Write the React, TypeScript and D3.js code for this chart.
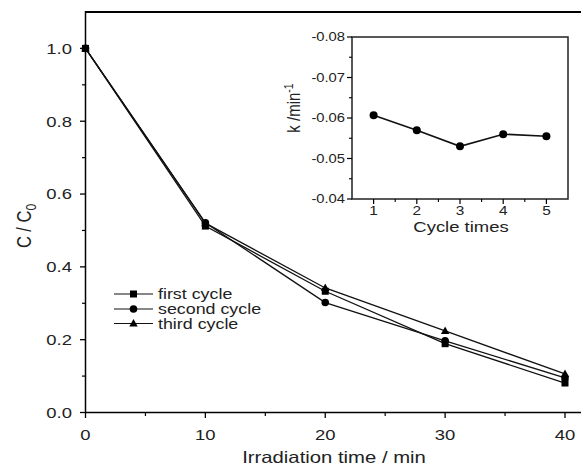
import React from "react";
import * as d3 from "d3";

const times = [0, 10, 20, 30, 40];
const firstCycle = [1.0, 0.512, 0.333, 0.189, 0.081];
const secondCycle = [1.0, 0.521, 0.302, 0.197, 0.095];
const thirdCycle = [1.0, 0.52, 0.342, 0.224, 0.106];
const seriesNames = ["first cycle", "second cycle", "third cycle"];
const yTicks = [0.0, 0.2, 0.4, 0.6, 0.8, 1.0];
const yMinor = [0.1, 0.3, 0.5, 0.7, 0.9];
const xTicks = [0, 10, 20, 30, 40];
const xMinor = [5, 15, 25, 35];

const cycles = [1, 2, 3, 4, 5];
const kValues = [-0.0607, -0.057, -0.053, -0.056, -0.0555];
const kTicks = [-0.08, -0.07, -0.06, -0.05, -0.04];
const kMinor = [-0.075, -0.065, -0.055, -0.045];
const cycleMinor = [1.5, 2.5, 3.5, 4.5];

const FONT = "'Liberation Sans', Arial, Helvetica, sans-serif";
const SX = 1.23;

function T({
  x,
  y,
  size,
  anchor = "start",
  rotate = 0,
  dy,
  children,
}: {
  x: number;
  y: number;
  size: number;
  anchor?: string;
  rotate?: number;
  dy?: string;
  children: React.ReactNode;
}) {
  return (
    <text
      transform={`translate(${x},${y}) scale(${SX},1)${rotate ? ` rotate(${rotate})` : ""}`}
      textAnchor={anchor}
      fontSize={size}
      dy={dy}
      fill="#222"
    >
      {children}
    </text>
  );
}

function Marker({ type, x, y }: { type: string; x: number; y: number }) {
  if (type === "square") return <rect x={x - 3.5} y={y - 3.5} width={7} height={7} fill="#000" />;
  if (type === "circle") return <circle cx={x} cy={y} r={3.8} fill="#000" />;
  return <path d={`M${x},${y - 4.5}L${x + 4.2},${y + 3}L${x - 4.2},${y + 3}Z`} fill="#000" />;
}

export default function App() {
  const x = d3.scaleLinear().domain([0, 40]).range([85.5, 565]);
  const y = d3.scaleLinear().domain([0, 1.1]).range([412.5, 12]);
  const line = d3
    .line<number>()
    .x((_, i) => x(times[i]))
    .y((d) => y(d));
  const data = [firstCycle, secondCycle, thirdCycle];
  const markers = ["square", "circle", "triangle"];

  const ix = d3.scaleLinear().domain([0.5, 5.5]).range([352, 568]);
  const iy = d3.scaleLinear().domain([-0.04, -0.08]).range([199, 37]);
  const kLine = d3
    .line<number>()
    .x((_, i) => ix(cycles[i]))
    .y((d) => iy(d));

  const legendX = 114;
  const legendY = [294, 309, 323.5];

  return (
    <svg
      width={581}
      height={466}
      style={{ position: "absolute", left: 0, top: 0, background: "#fff" }}
      fontFamily={FONT}
    >
      <rect width={581} height={466} fill="#fff" />
      {/* main frame */}
      <line x1={85.5} x2={581} y1={12} y2={12} stroke="#000" strokeWidth={1.8} />
      <line x1={85.5} x2={85.5} y1={11} y2={413} stroke="#000" strokeWidth={1.5} />
      <line x1={85} x2={581} y1={412.5} y2={412.5} stroke="#000" strokeWidth={1.5} />
      {yTicks.map((t) => (
        <g key={"yt" + t}>
          <line x1={80} x2={85.5} y1={y(t)} y2={y(t)} stroke="#000" strokeWidth={1.3} />
          <T x={72} y={y(t) + 5.4} size={15} anchor="end">
            {t.toFixed(1)}
          </T>
        </g>
      ))}
      {yMinor.map((t) => (
        <line key={"ym" + t} x1={82} x2={85.5} y1={y(t)} y2={y(t)} stroke="#000" strokeWidth={1.2} />
      ))}
      {xTicks.map((t) => (
        <g key={"xt" + t}>
          <line x1={x(t)} x2={x(t)} y1={412.5} y2={418} stroke="#000" strokeWidth={1.3} />
          <T x={x(t)} y={440} size={15} anchor="middle">
            {t}
          </T>
        </g>
      ))}
      {xMinor.map((t) => (
        <line key={"xm" + t} x1={x(t)} x2={x(t)} y1={412.5} y2={416} stroke="#000" strokeWidth={1.2} />
      ))}
      <T x={334} y={463} size={16.5} anchor="middle">
        Irradiation time / min
      </T>
      <T x={31} y={226} size={16.5} anchor="middle" rotate={-90}>
        C / C<tspan fontSize={12} dy={4}>0</tspan>
      </T>

      {data.map((d, si) => (
        <g key={"s" + si}>
          <path d={line(d) || ""} fill="none" stroke="#111" strokeWidth={1.3} />
          {d.map((v, i) => (
            <Marker key={i} type={markers[si]} x={x(times[i])} y={y(v)} />
          ))}
        </g>
      ))}

      {/* legend */}
      {seriesNames.map((name, i) => (
        <g key={"lg" + i}>
          <line x1={legendX} x2={legendX + 39} y1={legendY[i]} y2={legendY[i]} stroke="#111" strokeWidth={1.2} />
          <Marker type={markers[i]} x={legendX + 19.5} y={legendY[i]} />
          <T x={158} y={legendY[i] + 5} size={14.5}>
            {name}
          </T>
        </g>
      ))}

      {/* inset */}
      <rect x={352} y={37} width={216} height={162} fill="none" stroke="#222" strokeWidth={1.5} />
      {kTicks.map((t) => (
        <g key={"kt" + t}>
          <line x1={347} x2={352} y1={iy(t)} y2={iy(t)} stroke="#000" strokeWidth={1.2} />
          <T x={345} y={iy(t) + 4.3} size={12} anchor="end">
            {t.toFixed(2)}
          </T>
        </g>
      ))}
      {kMinor.map((t) => (
        <line key={"km" + t} x1={349} x2={352} y1={iy(t)} y2={iy(t)} stroke="#000" strokeWidth={1.1} />
      ))}
      {cycles.map((t) => (
        <g key={"ct" + t}>
          <line x1={ix(t)} x2={ix(t)} y1={199} y2={204} stroke="#000" strokeWidth={1.2} />
          <T x={ix(t)} y={215} size={12.5} anchor="middle">
            {t}
          </T>
        </g>
      ))}
      {cycleMinor.map((t) => (
        <line key={"cm" + t} x1={ix(t)} x2={ix(t)} y1={199} y2={202} stroke="#000" strokeWidth={1.1} />
      ))}
      <T x={461} y={232} size={15} anchor="middle">
        Cycle times
      </T>
      <T x={300} y={108} size={15} anchor="middle" rotate={-90}>
        k /min<tspan fontSize={10.5} dy={-6}>-1</tspan>
      </T>
      <path d={kLine(kValues) || ""} fill="none" stroke="#111" strokeWidth={1.6} />
      {kValues.map((v, i) => (
        <circle key={"kc" + i} cx={ix(cycles[i])} cy={iy(v)} r={4} fill="#000" />
      ))}
    </svg>
  );
}
